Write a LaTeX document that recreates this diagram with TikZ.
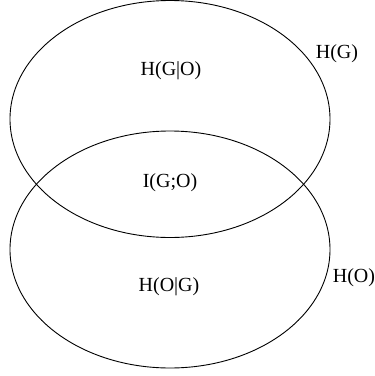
\documentclass[tikz,border=0pt]{standalone}
\usepackage{fontspec}
\setmainfont{Liberation Serif}

\begin{document}
\begin{tikzpicture}[x=1pt, y=-1pt]
                \useasboundingbox (0, 0) rectangle (375, 376);
                \tikzset{lbl/.style={inner sep=0pt, font=\fontsize{20}{20}\selectfont}}
                % H(G)
                \draw [black, line width=0.9pt] (170, 119) ellipse (160 and 118.5);
                \node [lbl] (hgo) at (171, 71) {H(G|O)};
                \node [lbl] (hg) at (337, 54) {H(G)};
                % H(O)
                \draw [black, line width=0.9pt] (170, 249.5) ellipse (160 and 118.5);
                \node [lbl] (hog) at (169, 287) {H(O|G)};
                \node [lbl] (ho) at (354, 278) {H(O)};
                % I(G;O)
                \node [lbl] (igo) at (170, 183) {I(G;O)};
            \end{tikzpicture}
\end{document}
